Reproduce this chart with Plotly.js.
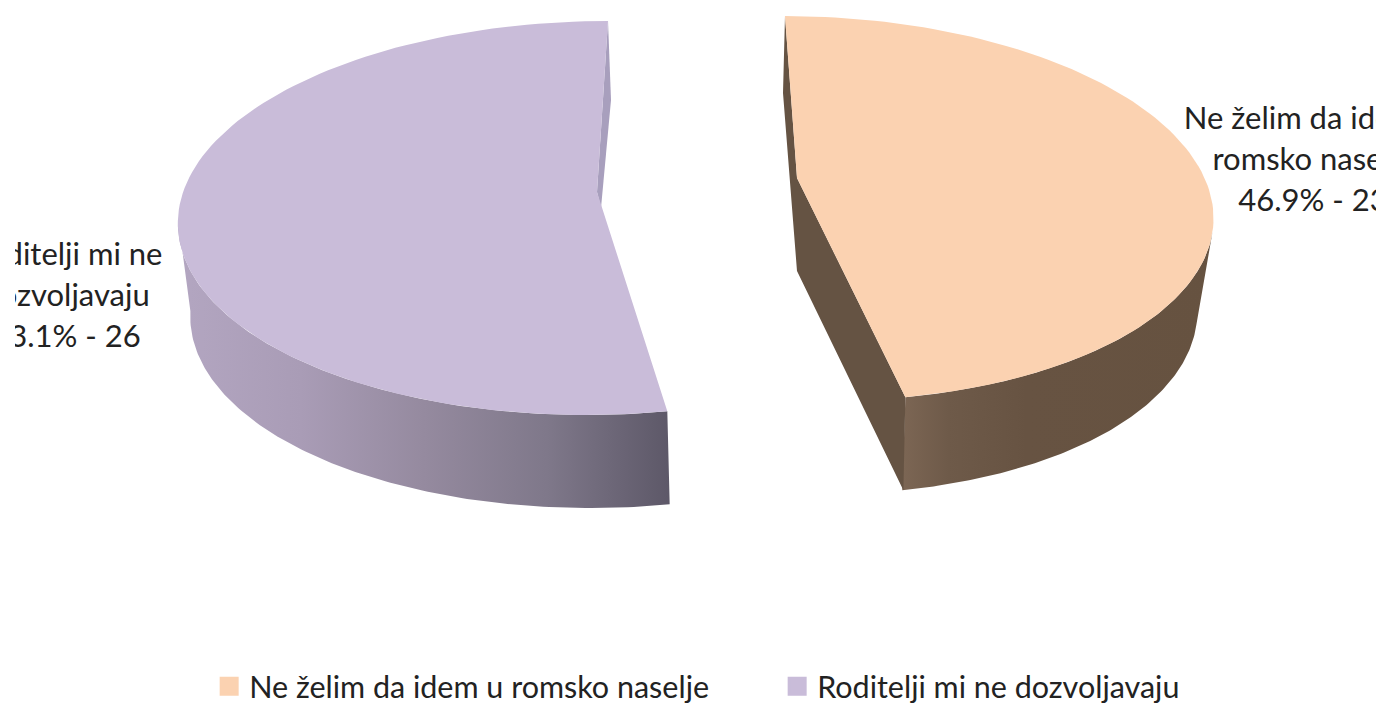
<!DOCTYPE html>
<html><head><meta charset="utf-8">
<script src="https://cdn.plot.ly/plotly-3.0.1.min.js"></script>
<style>html,body{margin:0;padding:0;background:#fff;overflow:hidden}</style>
</head><body><div id="chart" style="width:1383px;height:704px"></div>
<script>
const categories = ["Ne želim da idem u romsko naselje", "Roditelji mi ne dozvoljavaju"];
const counts = [23, 26];
const shares = [46.9, 53.1];
const labelLines = [
  ["Ne želim da idem u", "romsko naselje", "46.9% - 23"],
  ["Roditelji mi ne", "dozvoljavaju", "53.1% - 26"]
];
const topColors = ["#fbd2b1", "#c9bcd9"];
const cutColors = ["#655343", "#a89fbd"];
const sideScales = [
  [[0, "#7c6654"], [0.15, "#6e5a49"], [0.4, "#675342"], [1, "#665240"]],
  [[0, "#b3a6c1"], [0.25, "#a99cb6"], [0.5, "#958a9f"], [0.75, "#7f788a"], [1, "#5d5868"]]
];
// projection of each exploded slice onto the page
const geom = [
  {cx: 806, cy: 208.4, rx: 407, ry: 192.4, skew: 21, ax: 797, ay: 178, low: [797, 271], topLow: [783, 93], ringX: 0.96, ringDx: 0, dy: 93, wall: [97, null], labelX: 1313, labelY: [121, 162, 203]},
  {cx: 597, cy: 218, rx: 419, ry: 197, skew: -11, ax: 597, ay: 192, low: [601, 208], topLow: [611, 100], ringX: 0.98, ringDx: 4, dy: 93, wall: [null, 270], labelX: 66, labelY: [257, 298, 339]}
];
function pt(g, deg, scale, dy, dx) {
  const t = deg * Math.PI / 180;
  return [g.cx + dx + scale * g.rx * Math.sin(t) - g.skew * Math.cos(t), g.cy + dy - g.ry * Math.cos(t)];
}
function arc(g, a, b, scale, dy, dx) {
  const out = [], n = 120;
  for (let i = 0; i <= n; i++) out.push(pt(g, a + (b - a) * i / n, scale, dy, dx));
  return out;
}
const traces = [];
let start = 0;
const hidden = {hoverinfo: "skip", showlegend: false, mode: "lines", line: {width: 0}, fill: "toself"};
shares.forEach((s, i) => {
  const g = geom[i], end = start + s * 3.6;
  const a0 = pt(g, start, 1, 0, 0), a1 = pt(g, end, 1, 0, 0);
  const apex = [g.ax, g.ay];
  const w0 = g.wall[0] === null ? start : g.wall[0];
  const w1 = g.wall[1] === null ? end : g.wall[1];
  const wallPts = arc(g, w0, w1, 1, 0, 0).concat(arc(g, w1, w0, g.ringX, g.dy, g.ringDx));
  traces.push(Object.assign({}, hidden, {
    x: wallPts.map(p => p[0]), y: wallPts.map(p => p[1]),
    fillcolor: topColors[i],
    fillgradient: {type: "horizontal", colorscale: i === 0 ? sideScales[0] : sideScales[1]}
  }));
  const cut = i === 0
    ? [a0, apex, a1, [a1[0] - 2, a1[1] + g.dy], g.low, g.topLow]
    : [a1, g.topLow, g.low, apex];
  traces.push(Object.assign({}, hidden, {x: cut.map(p => p[0]), y: cut.map(p => p[1]), fillcolor: cutColors[i]}));
  const surf = arc(g, start, end, 1, 0, 0).concat([apex]);
  traces.push(Object.assign({}, hidden, {x: surf.map(p => p[0]), y: surf.map(p => p[1]), fillcolor: topColors[i]}));
  traces.push({x: labelLines[i].map(() => g.labelX), y: g.labelY, text: labelLines[i], mode: "text", textposition: "middle center",
    textfont: {family: "Lato, sans-serif", size: 31, color: "#222"}, cliponaxis: true, showlegend: false, hoverinfo: "skip"});
  start = end;
});
categories.forEach((c, i) => traces.push({x: [null], y: [null], name: c, mode: "markers", type: "scatter", hoverinfo: "skip",
  marker: {symbol: "square", size: 16, color: topColors[i], line: {width: 3, color: topColors[i]}}}));
Plotly.newPlot("chart", traces, {
  width: 1383, height: 704, paper_bgcolor: "#fff", plot_bgcolor: "#fff",
  margin: {l: 15, r: 7, t: 0, b: 0, autoexpand: false},
  xaxis: {range: [15, 1376], visible: false, fixedrange: true},
  yaxis: {range: [704, 0], visible: false, fixedrange: true},
  showlegend: true,
  legend: {orientation: "h", x: 0.56, xanchor: "center", y: 0.0625, yanchor: "top", itemwidth: 30, entrywidth: 523, entrywidthmode: "pixels",
    font: {family: "Lato, sans-serif", size: 30.5, color: "#222"}, bgcolor: "rgba(0,0,0,0)", itemclick: false, itemdoubleclick: false}
}, {displayModeBar: false, staticPlot: true});
</script></body></html>
